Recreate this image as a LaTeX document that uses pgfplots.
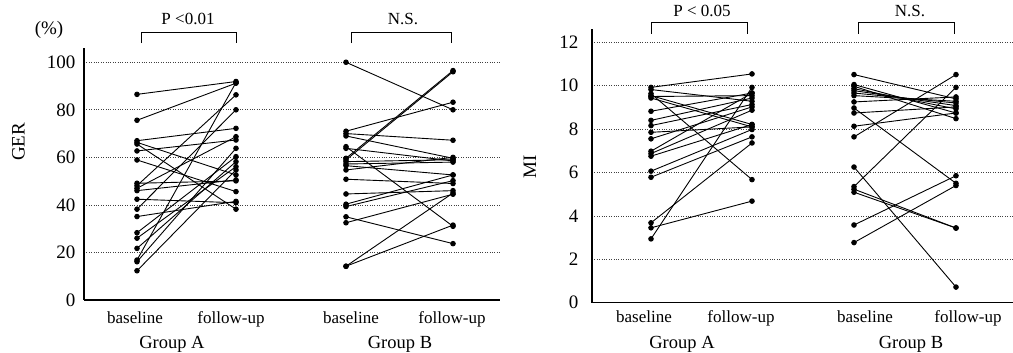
\documentclass[border=0pt]{standalone}
\usepackage{fontspec}
\setmainfont{Liberation Serif}
\usepackage{pgfplots}
\pgfplotsset{compat=1.18}
\tikzset{pr/.style={black, solid, line width=0.9pt, mark=*, mark size=2.3pt, mark options={solid, fill=black}}}
\newcommand\gA[2]{\addplot[pr] coordinates {(137,#1) (236,#2)};}
\newcommand\gB[2]{\addplot[pr] coordinates {(346,#1) (453,#2)};}
\newcommand\mA[2]{\addplot[pr] coordinates {(651,#1) (752,#2)};}
\newcommand\mB[2]{\addplot[pr] coordinates {(854,#1) (956,#2)};}
\pgfplotsset{panel/.style={
  scale only axis,
  axis x line=bottom, axis y line=left,
  axis line style={line width=1.3pt,-},
  xtick=\empty,
  ytick style={draw=none},
  ymajorgrids,
  grid style={dotted, line width=0.7pt, black!75},
  clip=false,
  tick label style={font=\fontsize{19}{20}\selectfont},
  /pgf/number format/assume math mode=true,
}}
\begin{document}
\begin{tikzpicture}[x=1pt,y=1pt]
\path[use as bounding box] (0,0) rectangle (1013,353);
% ---------------- GER ----------------
\begin{axis}[panel,
  at={(84pt,53pt)}, anchor=south west,
  width=416pt, height=252pt,
  xmin=84, xmax=500, ymin=0, ymax=106,
  ytick={0,20,40,60,80,100},
  yticklabel style={xshift=-3pt},
]
\gA{86.5}{91.9}
\gA{75.6}{91.2}
\gA{67.0}{72.2}
\gA{66.3}{52.6}
\gA{65.6}{38.2}
\gA{62.7}{67.3}
\gA{58.9}{45.6}
\gA{49.1}{50.1}
\gA{48.1}{86.3}
\gA{47.0}{68.7}
\gA{46.0}{50.5}
\gA{42.4}{40.9}
\gA{38.2}{80.0}
\gA{35.1}{41.5}
\gA{28.3}{60.3}
\gA{26.0}{56.1}
\gA{21.7}{58.2}
\gA{16.8}{91.5}
\gA{16.1}{63.8}
\gA{12.3}{54.7}
%
\gB{100}{80.0}
\gB{71.0}{83.2}
\gB{70.0}{67.2}
\gB{69.0}{59.6}
\gB{64.5}{31.0}
\gB{63.8}{58.5}
\gB{59.6}{96.5}
\gB{58.9}{96.0}
\gB{58.2}{59.0}
\gB{57.2}{58.0}
\gB{56.5}{52.6}
\gB{54.7}{60.0}
\gB{50.8}{49.0}
\gB{44.6}{46.0}
\gB{40.3}{52.6}
\gB{39.3}{50.2}
\gB{35.0}{23.7}
\gB{32.5}{44.5}
\gB{14.2}{31.5}
\gB{14.2}{45.0}
% labels
\node[rotate=90, font=\fontsize{19}{20}\selectfont] at (axis cs:18.5,66.5) {GER};
\node[font=\fontsize{19}{20}\selectfont] at (axis cs:49,113.6) {(\%)};
\node[anchor=base, font=\fontsize{17}{20}\selectfont] at (axis cs:135,-9.7) {baseline};
\node[anchor=base, font=\fontsize{17}{20}\selectfont] at (axis cs:231,-9.7) {follow-up};
\node[anchor=base, font=\fontsize{17}{20}\selectfont] at (axis cs:351,-9.7) {baseline};
\node[anchor=base, font=\fontsize{17}{20}\selectfont] at (axis cs:452,-9.7) {follow-up};
\node[anchor=base, font=\fontsize{18.5}{20}\selectfont] at (axis cs:172,-20.2) {Group A};
\node[anchor=base, font=\fontsize{18.5}{20}\selectfont] at (axis cs:400,-20.2) {Group B};
% brackets
\draw[line width=0.9pt] (axis cs:141,108.1) -- (axis cs:141,112.7) -- (axis cs:236,112.7) -- (axis cs:236,108.1);
\draw[line width=0.9pt] (axis cs:351,108.1) -- (axis cs:351,112.7) -- (axis cs:451,112.7) -- (axis cs:451,108.1);
\node[anchor=base, font=\fontsize{17}{20}\selectfont] at (axis cs:188,115.7) {P <0.01};
\node[anchor=base, font=\fontsize{17}{20}\selectfont] at (axis cs:403,115.7) {N.S.};
\end{axis}
% ---------------- MI ----------------
\begin{axis}[panel,
  at={(592pt,50.3pt)}, anchor=south west,
  width=421pt, height=273.7pt,
  xmin=592, xmax=1013, ymin=0, ymax=12.61,
  ytick={0,2,4,6,8,10,12},
  yticklabel style={xshift=-8pt},
]
\mA{9.92}{10.54}
\mA{9.82}{9.28}
\mA{9.63}{5.67}
\mA{9.54}{8.21}
\mA{9.43}{8.10}
\mA{9.50}{9.54}
\mA{8.82}{9.66}
\mA{8.40}{9.43}
\mA{8.16}{9.13}
\mA{7.85}{8.10}
\mA{7.55}{9.02}
\mA{6.98}{9.66}
\mA{6.87}{8.87}
\mA{6.75}{8.21}
\mA{6.06}{7.98}
\mA{5.78}{7.64}
\mA{3.68}{7.36}
\mA{3.45}{4.68}
\mA{2.94}{9.92}
%
\mB{10.51}{9.39}
\mB{10.05}{8.74}
\mB{9.97}{8.48}
\mB{9.86}{8.93}
\mB{9.77}{9.08}
\mB{9.66}{9.20}
\mB{9.54}{9.28}
\mB{9.25}{9.48}
\mB{8.97}{5.50}
\mB{8.74}{9.02}
\mB{8.13}{8.74}
\mB{7.64}{10.51}
\mB{6.25}{0.72}
\mB{5.35}{9.92}
\mB{5.23}{3.44}
\mB{5.09}{3.44}
\mB{3.58}{5.85}
\mB{2.77}{5.40}
% labels
\node[rotate=90, font=\fontsize{19}{20}\selectfont] at (axis cs:530,6.25) {MI};
\node[anchor=base, font=\fontsize{17}{20}\selectfont] at (axis cs:644,-0.935) {baseline};
\node[anchor=base, font=\fontsize{17}{20}\selectfont] at (axis cs:741,-0.935) {follow-up};
\node[anchor=base, font=\fontsize{17}{20}\selectfont] at (axis cs:865,-0.935) {baseline};
\node[anchor=base, font=\fontsize{17}{20}\selectfont] at (axis cs:968,-0.935) {follow-up};
\node[anchor=base, font=\fontsize{18.5}{20}\selectfont] at (axis cs:682,-2.09) {Group A};
\node[anchor=base, font=\fontsize{18.5}{20}\selectfont] at (axis cs:911,-2.09) {Group B};
% brackets
\draw[line width=0.9pt] (axis cs:651,12.38) -- (axis cs:651,12.89) -- (axis cs:747,12.89) -- (axis cs:747,12.38);
\draw[line width=0.9pt] (axis cs:858,12.38) -- (axis cs:858,12.89) -- (axis cs:954,12.89) -- (axis cs:954,12.38);
\node[anchor=base, font=\fontsize{17}{20}\selectfont] at (axis cs:702,13.17) {P < 0.05};
\node[anchor=base, font=\fontsize{17}{20}\selectfont] at (axis cs:910,13.17) {N.S.};
\end{axis}
\end{tikzpicture}
\end{document}
